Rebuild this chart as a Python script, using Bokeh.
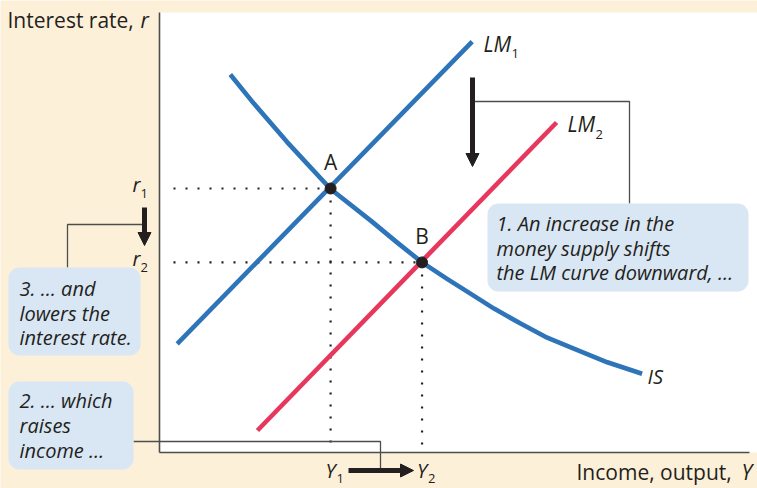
from bokeh.plotting import figure
from bokeh.models import Range1d, Label, Arrow, NormalHead, BoxAnnotation, FixedTicker
from bokeh.embed import file_html
from bokeh.resources import INLINE

# ---------------- data (income Y on x, interest rate r on y; 0-100 scale) ----------------
is_income = [12.0, 16.0, 21.6, 24.5, 29.0, 35.8, 40.3, 44.5, 48.8, 52.7, 56.7, 61.2, 65.4, 69.7, 75.9, 81.8]
is_rate = [85.9, 79.3, 70.6, 66.4, 59.9, 52.7, 47.7, 43.2, 39.4, 36.1, 32.7, 29.3, 26.3, 23.9, 20.5, 17.9]
lm1_income = [3.0, 53.0]
lm1_rate = [24.7, 93.4]
lm2_income = [16.6, 67.3]
lm2_rate = [5.0, 75.0]
eq_income = [29.0, 44.5]   # Y1, Y2
eq_rate = [60.0, 43.2]     # r1, r2
eq_names = ["A", "B"]
eq_sub = ["1", "2"]
box_texts = [
    ["1. An increase in the", "money supply shifts", "the LM curve downward, \u2026"],
    ["2. \u2026 which", "raises", "income \u2026"],
    ["3. \u2026 and", "lowers the", "interest rate."],
]

# ---------------- styling ----------------
BEIGE = "#fdf0d9"
BOXC = "#d9e6f3"
BLUE = "#2d74b9"
RED = "#e8375c"
DARK = "#231f20"
LINEC = "#4d4d4d"
FONT = "Open Sans"
LIFT_EM = 0.34  # compensates the label baseline placement (fraction of font size)

W, H = 757, 488

# page-pixel -> data helpers (used only for annotation layout)
def gx(px):
    return (px - 159) / 5.9

def gy(py):
    return (452 - py) / 4.4

p = figure(width=W, height=H, output_backend="svg", toolbar_location=None,
           x_range=Range1d(gx(0), gx(W)), y_range=Range1d(gy(H), gy(0)),
           min_border=0, background_fill_color=BEIGE, border_fill_color=BEIGE,
           outline_line_color=None)
p.grid.visible = False
for ax in (p.xaxis[0], p.yaxis[0]):
    ax.fixed_location = 0
    ax.ticker = FixedTicker(ticks=[])
    ax.bounds = (0, 100)
    ax.axis_line_color = LINEC
    ax.axis_line_width = 1.6
    ax.major_tick_line_color = None
    ax.minor_tick_line_color = None
    ax.major_label_text_font_size = "0px"

# white plotting area
p.add_layout(BoxAnnotation(left=0, right=gx(W + 5), bottom=0, top=100, fill_color="white",
                           fill_alpha=1, line_alpha=0, level="underlay"))

# dotted guide lines
start = gx(173)
seg_x0 = [start, start] + eq_income
seg_y0 = eq_rate + eq_rate
seg_x1 = eq_income + eq_income
seg_y1 = eq_rate + [0.6, 0.6]
p.segment(seg_x0, seg_y0, seg_x1, seg_y1, line_color=DARK, line_width=2.2, line_dash="2 10")

# curves
p.line(lm1_income, lm1_rate, line_color=BLUE, line_width=4.6)
p.line(lm2_income, lm2_rate, line_color=RED, line_width=4.6)
p.line(is_income, is_rate, line_color=BLUE, line_width=4.6, line_join="round")
p.scatter(eq_income, eq_rate, size=11, color=DARK)

def lab(text, x, y, size, style="normal", align="left", baseline="alphabetic", xo=0, yo=0, color=DARK):
    p.add_layout(Label(x=x, y=y, x_offset=xo, y_offset=yo + LIFT_EM * size, text=text, text_font=FONT,
                       text_font_size=f"{size}px", text_font_style=style, text_color=color,
                       text_align=align, text_baseline=baseline))

# leader lines
def leader(pts):
    p.line([gx(a) for a, b in pts], [gy(b) for a, b in pts], line_color=LINEC, line_width=1.3)

leader([(629, 203), (629, 101), (472, 101)])
leader([(67, 267), (67, 224), (144, 224)])
leader([(133, 441), (380, 441), (380, 470)])

# arrows
def arrow(x0, y0, x1, y1):
    p.add_layout(Arrow(x_start=gx(x0), y_start=gy(y0), x_end=gx(x1), y_end=gy(y1),
                       line_color=DARK, line_width=5,
                       end=NormalHead(size=13, fill_color=DARK, line_color=DARK, line_width=1)))

arrow(472, 77, 472, 166)
arrow(144, 207, 144, 245)
arrow(348, 470, 413, 470)

# annotation boxes
boxes = [(487, 748, 203, 291), (8, 133, 381, 469), (8, 140, 267, 355)]
text_pos = [(496, [230, 255, 279]), (19, [407, 432, 457]), (19, [295, 319.5, 344])]
for (l, r, t, b), (tx, bls), lines in zip(boxes, text_pos, box_texts):
    p.add_layout(BoxAnnotation(left=gx(l), right=gx(r), top=gy(t), bottom=gy(b), fill_color=BOXC,
                               fill_alpha=1, line_alpha=0, border_radius=11))
    for line, bl in zip(lines, bls):
        lab(line, gx(tx), gy(bl), 20, "italic")

# axis titles
lab("Interest rate, ", gx(7), gy(27), 21)
lab("r", gx(140), gy(27), 21, "italic")
lab("Income, output, ", gx(576), gy(479), 21)
lab("Y", gx(741), gy(479), 21, "italic")

# curve labels
lab("LM", gx(483), gy(51), 21, "italic")
lab("1", gx(511), gy(57), 13)
lab("LM", gx(567), gy(131), 21, "italic")
lab("2", gx(595), gy(138), 13)
lab("IS", gx(647), gy(383), 20, "italic")

# equilibrium point labels and tick-like labels
for xi, ri, nm, sb in zip(eq_income, eq_rate, eq_names, eq_sub):
    lab(nm, xi, ri, 21, align="center", yo=19)
    lab("r", gx(132), ri, 20, "italic", yo=-3)
    lab(sb, gx(140), ri, 13, yo=-9)
    lab("Y", xi, gy(477), 20, "italic", align="center")
    lab(sb, xi, gy(482), 13, xo=6)

open("out.html", "w").write(file_html(p, INLINE))
